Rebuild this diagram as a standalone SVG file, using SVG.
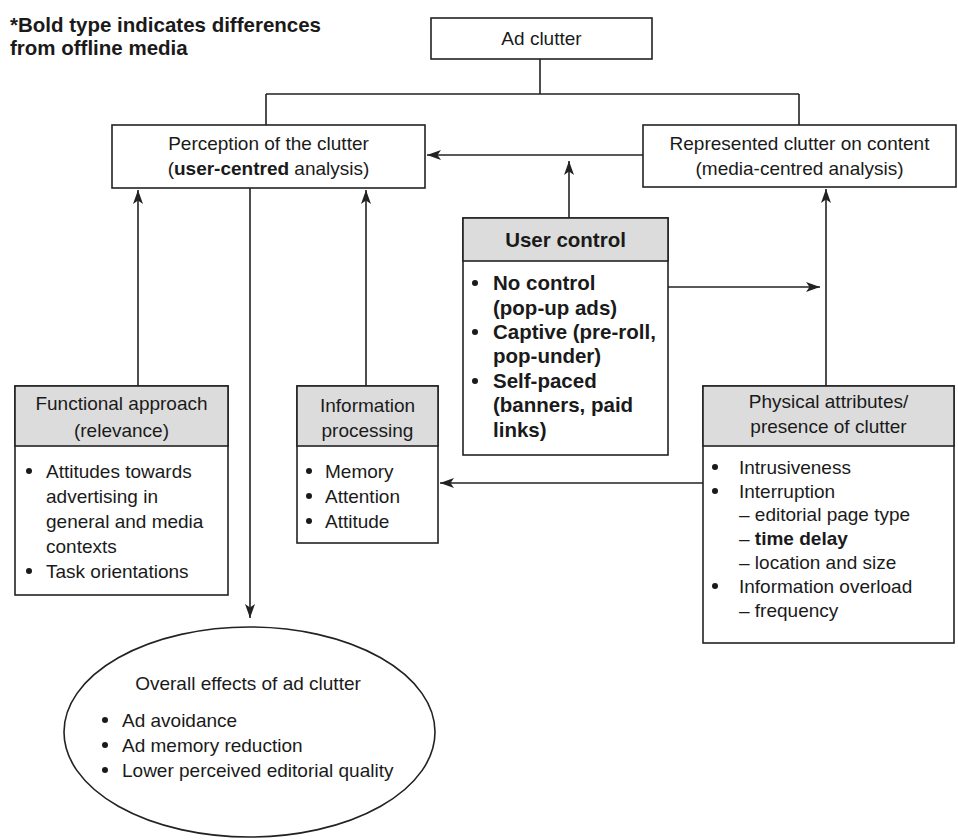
<svg xmlns="http://www.w3.org/2000/svg" width="958" height="840" viewBox="0 0 958 840">
<style>
.bx{fill:#fff;stroke:#222;stroke-width:1.6}
.hd{fill:#dcdcdc;stroke:#222;stroke-width:1.6}
.t{font-family:"Liberation Sans",Arial,sans-serif;font-size:19px;fill:#1a1a1a}
.c{text-anchor:middle}
.b{font-weight:bold}
.bb{font-family:"Liberation Sans",Arial,sans-serif;font-size:20.5px;font-weight:bold;fill:#1a1a1a}
.dot{fill:#1a1a1a}
.ln{fill:none;stroke:#222;stroke-width:1.6}
.ar{fill:none;stroke:#222;stroke-width:1.6;marker-end:url(#ah)}
</style>
<defs>
<marker id="ah" markerUnits="userSpaceOnUse" markerWidth="15" markerHeight="11" refX="14" refY="5.5" orient="auto">
<path d="M0,0.5 L14,5.5 L0,10.5 L3.5,5.5 z" fill="#222"/>
</marker>
</defs>
<rect width="958" height="840" fill="#fff"/>

<g id="title">
<text class="bb" x="10" y="32">*Bold type indicates differences</text>
<text class="bb" x="10" y="55">from offline media</text>
</g>

<g id="connectors">
<path class="ln" d="M540,59 V94 M266,94 H799 M266,94 V125 M799,94 V125"/>
<path class="ar" d="M643,155 H427"/>
<path class="ar" d="M569,218 V161"/>
<path class="ar" d="M668,287 H820"/>
<path class="ar" d="M826,386 V189"/>
<path class="ar" d="M138,386 V190"/>
<path class="ar" d="M366,386 V190"/>
<path class="ar" d="M250,188 V618"/>
<path class="ar" d="M703,483 H440"/>
</g>

<g id="ad-clutter">
<rect class="bx" x="431" y="18" width="221" height="41"/>
<text class="t c" x="541.5" y="45">Ad clutter</text>
</g>

<g id="perception">
<rect class="bx" x="112" y="125" width="313" height="63"/>
<text class="t c" x="268.5" y="150">Perception of the clutter</text>
<text class="t c" x="268.5" y="175">(<tspan class="b">user-centred</tspan> analysis)</text>
</g>

<g id="represented">
<rect class="bx" x="643" y="125" width="313" height="62"/>
<text class="t c" x="799.5" y="150">Represented clutter on content</text>
<text class="t c" x="799.5" y="175">(media-centred analysis)</text>
</g>

<g id="user-control">
<rect class="bx" x="463" y="218" width="205" height="237"/>
<rect class="hd" x="463" y="218" width="205" height="43"/>
<text class="bb c" x="565.5" y="247">User control</text>
<circle class="dot" cx="475" cy="283" r="3"/>
<circle class="dot" cx="475" cy="332" r="3"/>
<circle class="dot" cx="475" cy="381" r="3"/>
<text class="bb" x="493" y="290">No control</text>
<text class="bb" x="493" y="315">(pop-up ads)</text>
<text class="bb" x="493" y="339">Captive (pre-roll,</text>
<text class="bb" x="493" y="363">pop-under)</text>
<text class="bb" x="493" y="388">Self-paced</text>
<text class="bb" x="493" y="412">(banners, paid</text>
<text class="bb" x="493" y="437">links)</text>
</g>

<g id="functional">
<rect class="bx" x="15" y="386" width="213" height="209"/>
<rect class="hd" x="15" y="386" width="213" height="60"/>
<text class="t c" x="121.5" y="410">Functional approach</text>
<text class="t c" x="121.5" y="437">(relevance)</text>
<circle class="dot" cx="29" cy="471" r="3"/>
<circle class="dot" cx="29" cy="571" r="3"/>
<text class="t" x="46" y="478">Attitudes towards</text>
<text class="t" x="46" y="503">advertising in</text>
<text class="t" x="46" y="528">general and media</text>
<text class="t" x="46" y="553">contexts</text>
<text class="t" x="46" y="578">Task orientations</text>
</g>

<g id="information-processing">
<rect class="bx" x="297" y="386" width="141" height="157"/>
<rect class="hd" x="297" y="386" width="141" height="60"/>
<text class="t c" x="367.5" y="412">Information</text>
<text class="t c" x="367.5" y="437">processing</text>
<circle class="dot" cx="309" cy="471" r="3"/>
<circle class="dot" cx="309" cy="496" r="3"/>
<circle class="dot" cx="309" cy="521" r="3"/>
<text class="t" x="325" y="478">Memory</text>
<text class="t" x="325" y="503">Attention</text>
<text class="t" x="325" y="528">Attitude</text>
</g>

<g id="physical-attributes">
<rect class="bx" x="703" y="386" width="251" height="257"/>
<rect class="hd" x="703" y="386" width="251" height="60"/>
<text class="t c" x="828.5" y="408">Physical attributes/</text>
<text class="t c" x="828.5" y="433">presence of clutter</text>
<circle class="dot" cx="715" cy="467" r="3"/>
<circle class="dot" cx="715" cy="491" r="3"/>
<circle class="dot" cx="715" cy="586" r="3"/>
<text class="t" x="739" y="474">Intrusiveness</text>
<text class="t" x="739" y="498">Interruption</text>
<text class="t" x="739" y="521">– editorial page type</text>
<text class="t" x="739" y="545">– <tspan class="b">time delay</tspan></text>
<text class="t" x="739" y="569">– location and size</text>
<text class="t" x="739" y="593">Information overload</text>
<text class="t" x="739" y="617">– frequency</text>
</g>

<g id="overall-effects">
<ellipse class="bx" cx="249.5" cy="732" rx="185.5" ry="105"/>
<text class="t c" x="248" y="690">Overall effects of ad clutter</text>
<circle class="dot" cx="105" cy="720" r="3"/>
<circle class="dot" cx="105" cy="745" r="3"/>
<circle class="dot" cx="105" cy="770" r="3"/>
<text class="t" x="122" y="727">Ad avoidance</text>
<text class="t" x="122" y="752">Ad memory reduction</text>
<text class="t" x="122" y="777">Lower perceived editorial quality</text>
</g>
</svg>
